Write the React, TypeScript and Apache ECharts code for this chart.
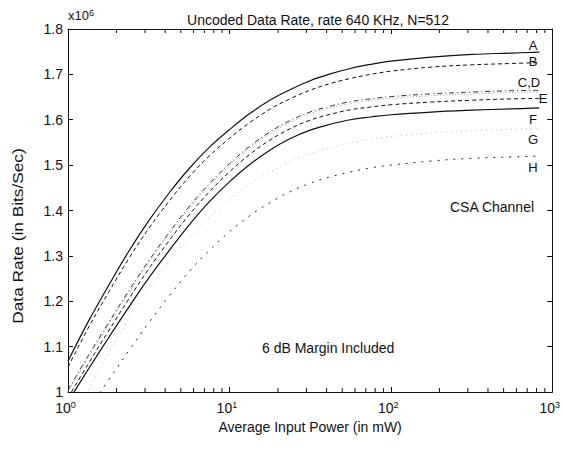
import React, { useEffect, useRef } from 'react';
import * as echarts from 'echarts';

// Average input power (mW)
const powerMW = [1, 1.33, 1.78, 2.37, 3.16, 4.22, 5.62, 7.5, 10, 13.3, 17.8, 23.7, 31.6, 42.2, 56.2, 75, 100, 178, 316, 562, 832];
// Data rate (x10^6 bits/sec)
const rateA = [1.068, 1.154, 1.234, 1.309, 1.377, 1.438, 1.492, 1.539, 1.578, 1.613, 1.643, 1.666, 1.686, 1.701, 1.713, 1.722, 1.729, 1.738, 1.744, 1.747, 1.749];
const rateB = [1.055, 1.14, 1.219, 1.293, 1.36, 1.42, 1.474, 1.52, 1.559, 1.593, 1.623, 1.646, 1.665, 1.68, 1.691, 1.7, 1.707, 1.716, 1.721, 1.724, 1.726];
const rateC = [1.005, 1.079, 1.152, 1.222, 1.289, 1.351, 1.408, 1.459, 1.503, 1.541, 1.573, 1.598, 1.617, 1.63, 1.64, 1.646, 1.651, 1.657, 1.661, 1.664, 1.665];
const rateD = [1.001, 1.075, 1.148, 1.218, 1.285, 1.347, 1.404, 1.455, 1.499, 1.537, 1.569, 1.594, 1.613, 1.626, 1.636, 1.642, 1.647, 1.653, 1.657, 1.66, 1.661];
const rateE = [0.987, 1.061, 1.134, 1.204, 1.271, 1.333, 1.39, 1.441, 1.485, 1.523, 1.555, 1.58, 1.599, 1.612, 1.622, 1.628, 1.633, 1.639, 1.643, 1.646, 1.647];
const rateF = [0.979, 1.049, 1.119, 1.186, 1.251, 1.311, 1.368, 1.419, 1.463, 1.501, 1.533, 1.558, 1.577, 1.59, 1.6, 1.606, 1.611, 1.617, 1.621, 1.624, 1.626];
const rateG = [0.928, 1.003, 1.085, 1.16, 1.228, 1.287, 1.339, 1.384, 1.424, 1.457, 1.484, 1.507, 1.525, 1.538, 1.549, 1.557, 1.563, 1.571, 1.576, 1.579, 1.581];
const rateH = [0.896, 0.961, 1.026, 1.09, 1.152, 1.211, 1.265, 1.312, 1.353, 1.388, 1.417, 1.441, 1.46, 1.474, 1.485, 1.494, 1.5, 1.509, 1.515, 1.518, 1.52];

const minorTickValues = [2, 3, 4, 5, 6, 7, 8, 9, 20, 30, 40, 50, 60, 70, 80, 90, 200, 300, 400, 500, 600, 700, 800, 900];

const X_MIN = 1;
const X_MAX = 1000;
const Y_MIN = 1;
const Y_MAX = 1.8;
const Y_STEP = 0.1;

const FONT = '"Liberation Sans", Arial, Helvetica, sans-serif';
const INK = '#111';

const curveLabels = [
  { text: 'A', x: 533, y: 45 },
  { text: 'B', x: 533, y: 61 },
  { text: 'C,D', x: 529, y: 82 },
  { text: 'E', x: 543, y: 98 },
  { text: 'F', x: 533, y: 119 },
  { text: 'G', x: 533, y: 139 },
  { text: 'H', x: 533, y: 167 },
];

function pairs(ys: number[]) {
  return ys.map((y, i) => [powerMW[i], y]);
}

export default function App() {
  const ref = useRef<HTMLDivElement>(null);
  useEffect(() => {
    if (!ref.current) return;
    const chart = echarts.init(ref.current, null, { renderer: 'svg' });

    const lineSeries = (name: string, data: number[], color: string, type: any, width = 1) => ({
      name,
      type: 'line',
      data: pairs(data),
      smooth: 0.4,
      showSymbol: false,
      clip: true,
      silent: true,
      lineStyle: { color, width, type },
    });

    const option: any = {
      animation: false,
      backgroundColor: '#fff',
      textStyle: { fontFamily: FONT },
      title: {
        text: 'Uncoded Data Rate, rate 640 KHz, N=512',
        left: 313,
        textAlign: 'center',
        top: 8,
        textStyle: { fontFamily: FONT, fontSize: 14, fontWeight: 'normal', color: INK },
      },
      grid: { left: 68, right: 10, top: 29, bottom: 57, containLabel: false },
      xAxis: [
        {
          type: 'log',
          logBase: 10,
          min: X_MIN,
          max: X_MAX,
          name: 'Average Input Power (in mW)',
          nameLocation: 'middle',
          nameGap: 24,
          nameTextStyle: { fontFamily: FONT, fontSize: 14, color: INK },
          axisLine: { lineStyle: { color: INK, width: 1 } },
          axisTick: { inside: true, length: 5, lineStyle: { color: INK } },
          splitLine: { show: false },
          axisLabel: {
            color: INK,
            margin: 8,
            hideOverlap: false,
            padding: [0, 5, 0, 0],
            formatter: (v: number) => '{b|10}{e|' + Math.round(Math.log10(v)) + '}',
            rich: {
              b: { fontFamily: FONT, fontSize: 14, lineHeight: 14, color: INK, verticalAlign: 'bottom' },
              e: { fontFamily: FONT, fontSize: 9, color: INK, verticalAlign: 'bottom', padding: [0, 0, 6, 0] },
            },
          },
        },
        {
          type: 'log',
          logBase: 10,
          min: X_MIN,
          max: X_MAX,
          position: 'top',
          axisLine: { lineStyle: { color: INK, width: 1 } },
          axisTick: { inside: true, length: 5, lineStyle: { color: INK } },
          axisLabel: { show: false },
          splitLine: { show: false },
        },
      ],
      yAxis: [
        {
          type: 'value',
          min: Y_MIN,
          max: Y_MAX,
          interval: Y_STEP,
          axisLine: { show: true, lineStyle: { color: INK, width: 1 } },
          axisTick: { show: true, inside: true, length: 5, lineStyle: { color: INK } },
          splitLine: { show: false },
          axisLabel: { color: INK, fontFamily: FONT, fontSize: 14, lineHeight: 13, margin: 5 },
        },
        {
          type: 'value',
          min: Y_MIN,
          max: Y_MAX,
          interval: Y_STEP,
          position: 'right',
          axisLine: { show: true, lineStyle: { color: INK, width: 1 } },
          axisTick: { show: true, inside: true, length: 5, lineStyle: { color: INK } },
          axisLabel: { show: false },
          splitLine: { show: false },
        },
      ],
      series: [
        lineSeries('A', rateA, INK, 'solid', 1.2),
        lineSeries('B', rateB, INK, [4, 3]),
        lineSeries('D', rateD, '#999', [1, 2]),
        lineSeries('C', rateC, '#333', [5, 3, 1, 3]),
        lineSeries('E', rateE, INK, [4, 3]),
        lineSeries('F', rateF, INK, 'solid', 1.2),
        lineSeries('G', rateG, '#bbb', [1, 4]),
        lineSeries('H', rateH, '#222', [2, 6]),
        {
          name: 'minorTicks',
          type: 'custom',
          silent: true,
          clip: false,
          data: minorTickValues.map((v) => [v, Y_MIN]),
          renderItem: (_params: any, api: any) => {
            const v = api.value(0);
            const b = api.coord([v, Y_MIN]);
            const t = api.coord([v, Y_MAX]);
            const style = { stroke: INK, lineWidth: 1 };
            return {
              type: 'group',
              children: [
                { type: 'line', shape: { x1: b[0], y1: b[1], x2: b[0], y2: b[1] - 4 }, style },
                { type: 'line', shape: { x1: t[0], y1: t[1], x2: t[0], y2: t[1] + 4 }, style },
              ],
            };
          },
        },
      ],
      graphic: [
        {
          type: 'text',
          x: 68,
          y: 8,
          style: {
            text: '{b|x10}{e|6}',
            rich: {
              b: { fontFamily: FONT, fontSize: 13, fill: INK, verticalAlign: 'bottom' },
              e: { fontFamily: FONT, fontSize: 9, fill: INK, verticalAlign: 'bottom', padding: [0, 0, 5, 0] },
            },
          },
        },
        {
          type: 'text',
          x: 17,
          y: 236,
          rotation: Math.PI / 2,
          scaleX: 1.15,
          style: {
            text: 'Data Rate (in Bits/Sec)',
            fontFamily: FONT,
            fontSize: 15,
            fill: INK,
            textAlign: 'center',
            textVerticalAlign: 'middle',
          },
        },
        {
          type: 'text',
          x: 450,
          y: 207,
          style: { text: 'CSA Channel', fontFamily: FONT, fontSize: 14, fill: INK, textVerticalAlign: 'middle' },
        },
        {
          type: 'text',
          x: 262,
          y: 348,
          style: { text: '6 dB Margin Included', fontFamily: FONT, fontSize: 14, fill: INK, textVerticalAlign: 'middle' },
        },
        ...curveLabels.map((l) => ({
          type: 'text',
          x: l.x,
          y: l.y,
          style: {
            text: l.text,
            fontFamily: FONT,
            fontSize: 13,
            fill: INK,
            textAlign: 'center',
            textVerticalAlign: 'middle',
          },
        })),
      ],
    };

    chart.setOption(option);
    return () => chart.dispose();
  }, []);

  return (
    <div
      ref={ref}
      style={{ position: 'fixed', left: 0, top: 0, width: 563, height: 449, background: '#fff' }}
    />
  );
}
